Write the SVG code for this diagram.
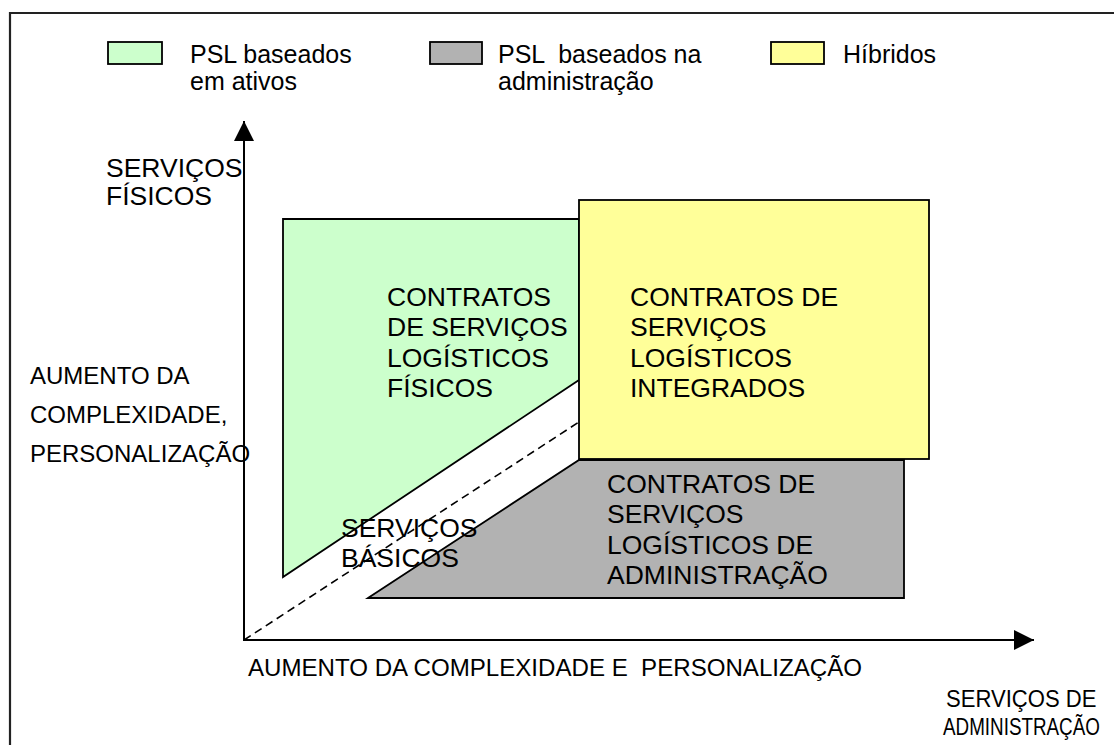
<svg xmlns="http://www.w3.org/2000/svg" width="1114" height="745" viewBox="0 0 1114 745">
<defs>
<style>
text{font-family:"Liberation Sans",Arial,sans-serif;fill:#000}
.t26{font-size:26.5px}
.t25{font-size:25px}
.t24{font-size:24px}
.shape{stroke:#000;stroke-width:1.8;stroke-linejoin:miter}
.axis{stroke:#000;stroke-width:2;fill:none}
</style>
<marker id="arr" viewBox="0 0 20 20" refX="20" refY="10" markerWidth="20" markerHeight="20" markerUnits="userSpaceOnUse" orient="auto">
<path d="M0,0 L20,10 L0,20 Z" fill="#000"/>
</marker>
</defs>
<rect width="1114" height="745" fill="#fff"/>
<path d="M10,746 V13 H1115" fill="none" stroke="#222" stroke-width="2.2"/>

<g id="legend">
<g id="legend-green"><rect x="108" y="42" width="54" height="22" fill="#CCFFCC" class="shape"/>
<text class="t25" x="190" y="63">PSL baseados</text><text class="t25" x="190" y="90">em ativos</text></g>
<g id="legend-gray"><rect x="430" y="42" width="52" height="22" fill="#B2B2B2" class="shape"/>
<text class="t25" x="498" y="63" xml:space="preserve">PSL  baseados na</text><text class="t25" x="498" y="90">administração</text></g>
<g id="legend-yellow"><rect x="771" y="42" width="53" height="22" fill="#FFFF99" class="shape"/>
<text class="t25" x="843" y="63">Híbridos</text></g>
</g>

<g id="node-gray">
<polygon points="368,598 579,460 904,460 904,598" fill="#B2B2B2" class="shape"/>
<text class="t26" x="607" y="493">CONTRATOS DE</text>
<text class="t26" x="607" y="523">SERVIÇOS</text>
<text class="t26" x="607" y="554">LOGÍSTICOS DE</text>
<text class="t26" x="607" y="584">ADMINISTRAÇÃO</text>
</g>

<g id="node-green">
<polygon points="283,219 579,219 579,380 283,577" fill="#CCFFCC" class="shape"/>
<text class="t26" x="387" y="306">CONTRATOS</text>
<text class="t26" x="387" y="336">DE SERVIÇOS</text>
<text class="t26" x="387" y="367">LOGÍSTICOS</text>
<text class="t26" x="387" y="397">FÍSICOS</text>
</g>

<g id="connectors">
<line x1="244" y1="640" x2="579" y2="422" stroke="#000" stroke-width="1.6" stroke-dasharray="8,5"/>
<line x1="244" y1="641" x2="244" y2="121" class="axis" marker-end="url(#arr)"/>
<line x1="243" y1="640" x2="1034" y2="640" class="axis" marker-end="url(#arr)"/>
</g>

<g id="node-yellow">
<rect x="579" y="200" width="350" height="259" fill="#FFFF99" class="shape"/>
<text class="t26" x="630" y="306">CONTRATOS DE</text>
<text class="t26" x="630" y="336">SERVIÇOS</text>
<text class="t26" x="630" y="367">LOGÍSTICOS</text>
<text class="t26" x="630" y="397">INTEGRADOS</text>
</g>

<g id="node-basic">
<text class="t26" x="341" y="537">SERVIÇOS</text>
<text class="t26" x="341" y="567">BÁSICOS</text>
</g>

<g id="labels">
<text class="t26" x="106" y="177">SERVIÇOS</text>
<text class="t26" x="106" y="205">FÍSICOS</text>
<text class="t24" x="30" y="384">AUMENTO DA</text>
<text class="t24" x="30" y="423">COMPLEXIDADE,</text>
<text class="t24" x="30" y="462">PERSONALIZAÇÃO</text>
<text class="t24" x="248" y="676" textLength="614" lengthAdjust="spacingAndGlyphs" xml:space="preserve">AUMENTO DA COMPLEXIDADE E  PERSONALIZAÇÃO</text>
<text class="t24" transform="translate(946,707) scale(0.92,1)">SERVIÇOS DE</text>
<text class="t24" transform="translate(943,735) scale(0.785,1)">ADMINISTRAÇÃO</text>
</g>
</svg>
